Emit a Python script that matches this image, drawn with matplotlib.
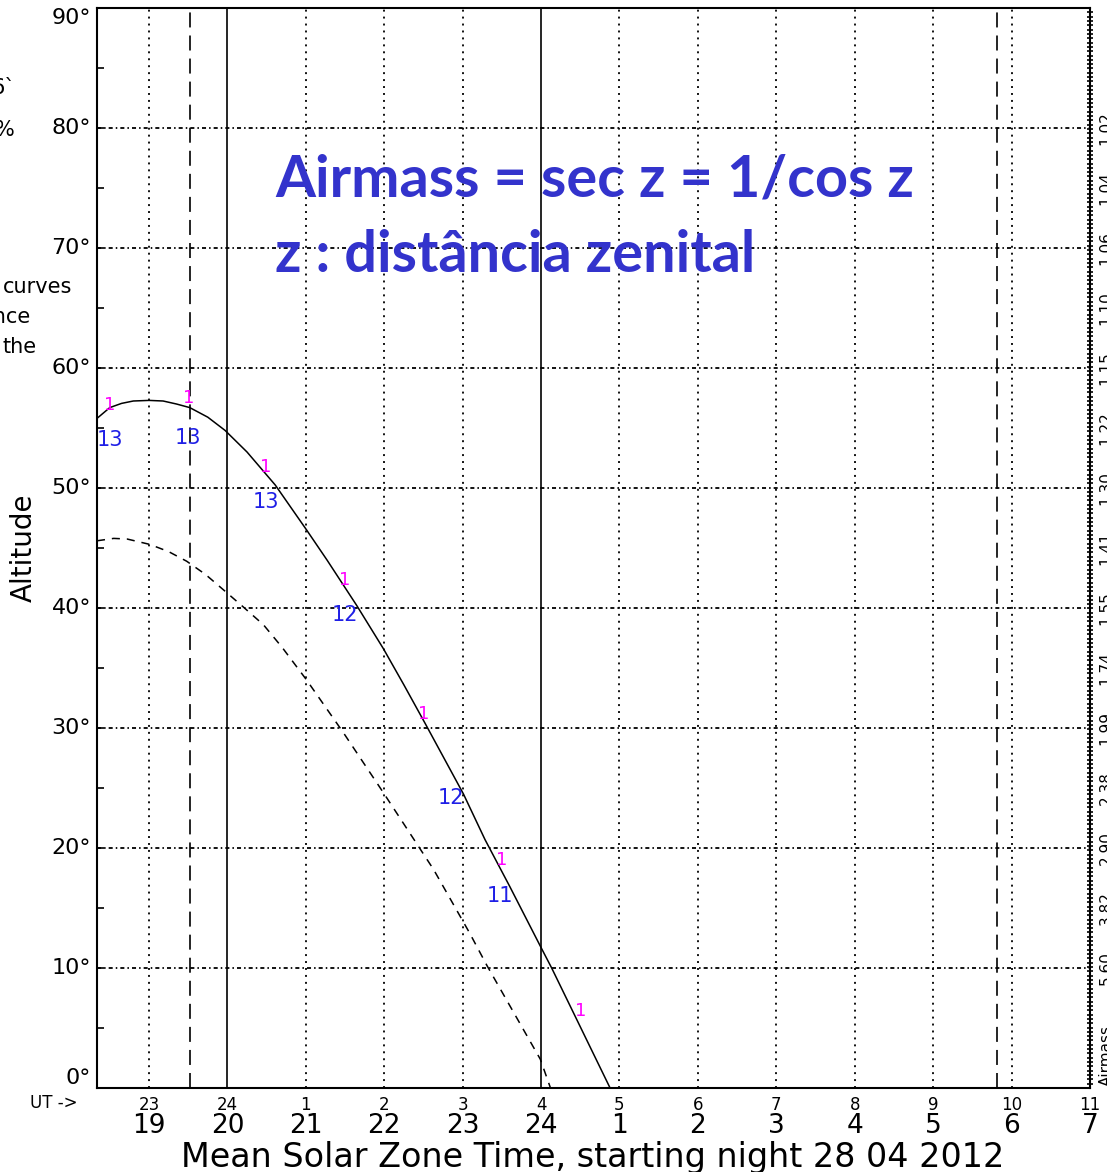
"""Staralt-style altitude plot with an airmass note, rebuilt in matplotlib."""

import matplotlib
matplotlib.use("Agg")
import matplotlib.pyplot as plt
import matplotlib.transforms as mtransforms

# ---------------------------------------------------------------------------
# Data (hours counted from UT 0 of the first day: 25 == UT 1 next day)
# ---------------------------------------------------------------------------
obj_hours = [22.337, 22.5, 22.65, 22.8, 23.0, 23.18, 23.35, 23.52, 23.75, 23.97,
             24.25, 24.61, 25.01, 25.27, 25.65, 25.99, 26.25, 26.52, 27.01,
             27.285, 27.6, 28.0, 28.135, 28.5, 28.88]
obj_alt = [55.8, 56.7, 57.05, 57.25, 57.3, 57.25, 57.0, 56.7, 55.9, 54.8,
           53.0, 50.25, 46.5, 44.0, 40.2, 36.6, 33.6, 30.4, 24.5,
           20.7, 16.8, 11.7, 10.0, 5.1, 0.0]

ref_hours = [22.337, 22.55, 22.72, 23.01, 23.25, 23.48, 23.72, 23.97, 24.2,
             24.46, 24.7, 25.01, 25.48, 25.99, 26.63, 27.09, 27.31, 27.65,
             27.99, 28.12]
ref_alt = [45.6, 45.8, 45.75, 45.3, 44.7, 43.9, 42.8, 41.4, 40.1,
           38.6, 36.7, 34.0, 29.6, 24.6, 18.2, 12.9, 10.2, 6.3,
           2.4, 0.0]

twilight_solid = [24.0, 28.0]
twilight_dashed = [23.52, 33.82]

tick_hours = list(range(23, 36))
ut_labels = ["23", "24", "1", "2", "3", "4", "5", "6", "7", "8", "9", "10", "11"]
zone_labels = ["19", "20", "21", "22", "23", "24", "1", "2", "3", "4", "5", "6", "7"]

alt_ticks = [0, 10, 20, 30, 40, 50, 60, 70, 80, 90]

airmass_alt = [80, 75, 70, 65, 60, 55, 50, 45, 40, 35, 30, 25, 20, 15, 10]
airmass_labels = ["1.02", "1.04", "1.06", "1.10", "1.15", "1.22", "1.30", "1.41",
                  "1.55", "1.74", "1.99", "2.38", "2.90", "3.82", "5.60"]

# labels along the curve: magenta "1" and blue numbers
moon_hours = [22.5, 23.5, 24.49, 25.49, 26.5, 27.5, 28.5]
moon_alt = [56.9, 57.5, 51.75, 42.3, 31.2, 19.0, 6.4]
num_hours = [22.5, 23.5, 24.49, 25.5, 26.85, 27.48]
num_alt = [54.0, 54.2, 48.8, 39.4, 24.2, 16.0]
num_text = ["13", "13", "13", "12", "12", "11"]

# ---------------------------------------------------------------------------
# Figure
# ---------------------------------------------------------------------------
plt.rcParams["font.family"] = ["DejaVu Sans"]
plt.rcParams["lines.scale_dashes"] = False

W, H = 1107, 1172
fig = plt.figure(figsize=(W / 100, H / 100), dpi=100)
ax = fig.add_axes([97 / W, 1 - 1088 / H, (1090 - 97) / W, (1088 - 8) / H])

x0, x1 = 22.337, 35.0
ax.set_xlim(x0, x1)
ax.set_ylim(0, 90)

# grid: dotted verticals, dash-dot horizontals
for h in tick_hours[:-1]:
    if h in twilight_solid:
        continue
    ax.axvline(h, color="black", lw=1.3, dashes=(1.4, 3.6), zorder=1)
for a in alt_ticks[1:-1]:
    ax.axhline(a, color="black", lw=1.3, dashes=(2.9, 2.2, 1.1, 2.2), zorder=1)

for h in twilight_solid:
    ax.axvline(h, color="black", lw=1.2, zorder=2)
for h in twilight_dashed:
    ax.axvline(h, color="black", lw=1.2, dashes=(10.8, 5.8), zorder=2)

ax.plot(obj_hours, obj_alt, color="black", lw=1.1, zorder=3)
ax.plot(ref_hours, ref_alt, color="black", lw=1.1, dashes=(5.8, 5.0), zorder=3)

for h, a in zip(moon_hours, moon_alt):
    ax.text(h, a, "1", color="#ff00ff", fontsize=13, ha="center", va="center", zorder=4)
for h, a, t in zip(num_hours, num_alt, num_text):
    ax.text(h, a, t, color="#1f1fe6", fontsize=15, ha="center", va="center", zorder=4)

# axes frame and ticks
for s in ax.spines.values():
    s.set_linewidth(1.5)
ax.set_yticks(alt_ticks)
ax.set_yticklabels([])
ax.set_yticks(range(5, 90, 10), minor=True)
ax.tick_params(axis="y", which="both", direction="in", length=5, width=1.2)
ax.set_xticks(tick_hours)
ax.set_xticklabels(ut_labels, fontsize=12)
ax.tick_params(axis="x", length=0, pad=6)

# altitude labels, the end ones nudged inside like the original
ytrans = mtransforms.blended_transform_factory(ax.transAxes, ax.transData)
for a in alt_ticks:
    ypos = a
    if a == 0:
        ypos = 0.85
    elif a == 90:
        ypos = 89.2
    ax.text(-0.006, ypos, f"{a}°", transform=ytrans, fontsize=16,
            ha="right", va="center")

# dense little ticks on the right spine
rax = ax.twinx()
rax.set_ylim(0, 90)
rax.set_yticks([i * 0.36 for i in range(1, 250)])
rax.set_yticklabels([])
rax.tick_params(axis="y", direction="inout", length=4, width=1.2)
rax.tick_params(axis="x", length=0)
for s in rax.spines.values():
    s.set_visible(False)

# second row of time labels
trans = mtransforms.blended_transform_factory(ax.transData, ax.transAxes)
for h, lab in zip(tick_hours, zone_labels):
    ax.text(h, -0.0355, lab, transform=trans, fontsize=19, ha="center", va="center")

fig.text(30 / W, 1 - 1103 / H, "UT ->", fontsize=12, ha="left", va="center")
fig.text(593 / W, 1 - 1157 / H, "Mean Solar Zone Time, starting night 28 04 2012",
         fontsize=24, ha="center", va="center")
fig.text(24 / W, 1 - 548 / H, "Altitude", fontsize=20, rotation=90,
         ha="center", va="center")

# airmass scale on the right edge (clipped by the image border)
for a, lab in zip(airmass_alt, airmass_labels):
    y = 1 - (1088 - a * 12.0) / H
    fig.text(1106 / W, y, lab, fontsize=11, rotation=90, ha="center", va="center")
fig.text(1106 / W, 1 - 1086 / H, "Airmass", fontsize=11, rotation=90,
         ha="center", va="bottom")

# fragments of the neighbouring panel on the left
fig.text(15 / W, 1 - 88 / H, "6`", fontsize=15, ha="right", va="center")
fig.text(15 / W, 1 - 130 / H, "%", fontsize=15, ha="right", va="center")
fig.text(72 / W, 1 - 287 / H, "curves", fontsize=15, ha="right", va="center")
fig.text(31 / W, 1 - 317 / H, "ance", fontsize=15, ha="right", va="center")
fig.text(37 / W, 1 - 347 / H, "the", fontsize=15, ha="right", va="center")

# the big blue note
note_color = "#3333cc"
fig.text(275 / W, 1 - 180 / H, "Airmass = sec z = 1/cos z", color=note_color,
         fontsize=41.5, fontweight="bold", family=["Lato", "DejaVu Sans"],
         ha="left", va="center")
fig.text(275 / W, 1 - 255 / H, "z : distância zenital", color=note_color,
         fontsize=41.5, fontweight="bold", family=["Lato", "DejaVu Sans"],
         ha="left", va="center")

fig.savefig("out.png", dpi=100)
